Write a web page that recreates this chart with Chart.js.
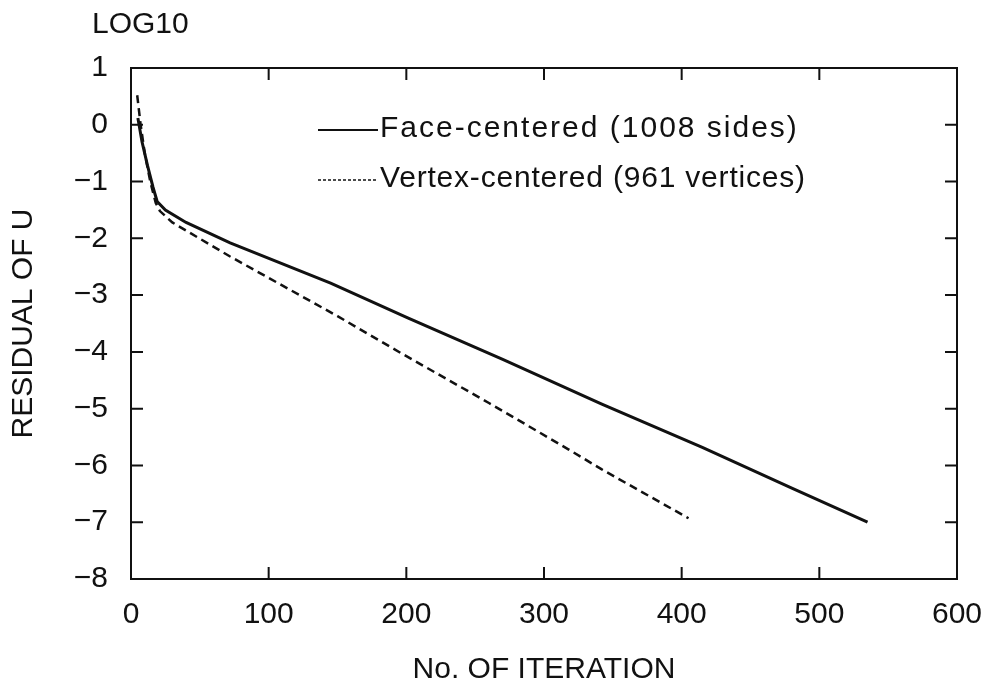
<!DOCTYPE html>
<html>
<head>
<meta charset="utf-8">
<script src="https://cdn.jsdelivr.net/npm/chart.js@4/dist/chart.umd.min.js"></script>
<style>
  html, body { margin: 0; padding: 0; background: #fff; }
  #wrap { width: 991px; height: 685px; }
</style>
</head>
<body>
<div id="wrap"><canvas id="residual-chart" width="991" height="685"></canvas></div>
<script>
// Face-centered (1008 sides)
const faceIter = [5, 8, 12, 16, 19, 25, 40, 72, 145, 201, 270, 342, 415, 480, 535];
const faceResid = [0.12, -0.3, -0.72, -1.1, -1.35, -1.5, -1.72, -2.08, -2.79, -3.4, -4.13, -4.92, -5.68, -6.4, -7.0];
// Vertex-centered (961 vertices)
const vertIter = [4.5, 7, 10, 14, 18, 21, 30, 72, 150, 196, 260, 318, 342, 405];
const vertResid = [0.52, 0.0, -0.5, -1.0, -1.38, -1.52, -1.72, -2.32, -3.37, -4.02, -4.9, -5.72, -6.07, -6.93];

const seriesLabels = ['Face-centered (1008 sides)', 'Vertex-centered (961 vertices)'];
const xTicks = [0, 100, 200, 300, 400, 500, 600];
const yTicks = [1, 0, -1, -2, -3, -4, -5, -6, -7, -8];

const FONT = '"Liberation Sans", Arial, sans-serif';
const INK = '#111';

function toPoints(xs, ys) {
  return xs.map((x, i) => ({ x: x, y: ys[i] }));
}

// frame + inward ticks on all four sides, legend and the LOG10 note
const framePlugin = {
  id: 'frame',
  afterDraw(chart) {
    const { ctx, chartArea: a } = chart;
    const xs = chart.scales.x;
    const ys = chart.scales.y;
    const tl = 12;
    ctx.save();
    ctx.strokeStyle = INK;
    ctx.lineWidth = 2;
    ctx.strokeRect(a.left, a.top, a.right - a.left, a.bottom - a.top);
    ctx.beginPath();
    xTicks.slice(1, -1).forEach((v) => {
      const px = xs.getPixelForValue(v);
      ctx.moveTo(px, a.bottom); ctx.lineTo(px, a.bottom - tl);
      ctx.moveTo(px, a.top); ctx.lineTo(px, a.top + tl);
    });
    yTicks.slice(1, -1).forEach((v) => {
      const py = ys.getPixelForValue(v);
      ctx.moveTo(a.left, py); ctx.lineTo(a.left + tl, py);
      ctx.moveTo(a.right, py); ctx.lineTo(a.right - tl, py);
    });
    ctx.stroke();

    // legend
    ctx.fillStyle = INK;
    ctx.font = '30px ' + FONT;
    ctx.textBaseline = 'alphabetic';
    ctx.textAlign = 'left';
    const rows = [
      { y: 130, base: 137, dash: [], w: 2, ls: '2px' },
      { y: 180, base: 187, dash: [3, 2], w: 1.5, ls: '0.8px' },
    ];
    rows.forEach((r, i) => {
      ctx.beginPath();
      ctx.setLineDash(r.dash);
      ctx.lineWidth = r.w;
      ctx.moveTo(318, r.y); ctx.lineTo(378, r.y);
      ctx.stroke();
      ctx.letterSpacing = r.ls;
      ctx.fillText(seriesLabels[i], 380, r.base);
    });
    ctx.setLineDash([]);
    ctx.letterSpacing = '0px';
    ctx.fillText('LOG10', 92, 33);
    ctx.restore();
  }
};

new Chart(document.getElementById('residual-chart'), {
  type: 'scatter',
  data: {
    datasets: [
      {
        label: seriesLabels[0],
        data: toPoints(faceIter, faceResid),
        showLine: true,
        borderColor: INK,
        borderWidth: 3,
        pointRadius: 0,
        tension: 0,
      },
      {
        label: seriesLabels[1],
        data: toPoints(vertIter, vertResid),
        showLine: true,
        borderColor: INK,
        borderWidth: 2.5,
        borderDash: [8, 5],
        pointRadius: 0,
        tension: 0,
      },
    ],
  },
  options: {
    responsive: false,
    animation: false,
    layout: { padding: { left: 0, top: 68, right: 34, bottom: 0 } },
    plugins: { legend: { display: false }, tooltip: { enabled: false } },
    scales: {
      x: {
        type: 'linear',
        min: 0,
        max: 600,
        afterBuildTicks: (s) => { s.ticks = xTicks.map((v) => ({ value: v })); },
        afterFit: (s) => { s.height = 106; s.paddingLeft = 0; s.paddingRight = 0; },
        grid: { display: false, drawTicks: false },
        border: { display: false },
        ticks: { color: INK, font: { family: FONT, size: 30 }, padding: 18, maxRotation: 0 },
        title: {
          display: true,
          text: 'No. OF ITERATION',
          color: INK,
          font: { family: FONT, size: 30, lineHeight: 1 },
          padding: { top: 0, bottom: 0 },
        },
      },
      y: {
        type: 'linear',
        min: -8,
        max: 1,
        afterBuildTicks: (s) => { s.ticks = yTicks.map((v) => ({ value: v })); },
        afterFit: (s) => { s.width = 131; s.paddingTop = 0; s.paddingBottom = 0; },
        grid: { display: false, drawTicks: false },
        border: { display: false },
        ticks: {
          color: INK,
          font: { family: FONT, size: 30 },
          padding: 23,
          callback: (v) => (v < 0 ? '\u2212' + Math.abs(v) : String(v)),
        },
        title: {
          display: true,
          text: 'RESIDUAL OF U',
          color: INK,
          font: { family: FONT, size: 30, lineHeight: 1 },
          padding: { top: 9, bottom: 0 },
        },
      },
    },
  },
  plugins: [framePlugin],
});
</script>
</body>
</html>
